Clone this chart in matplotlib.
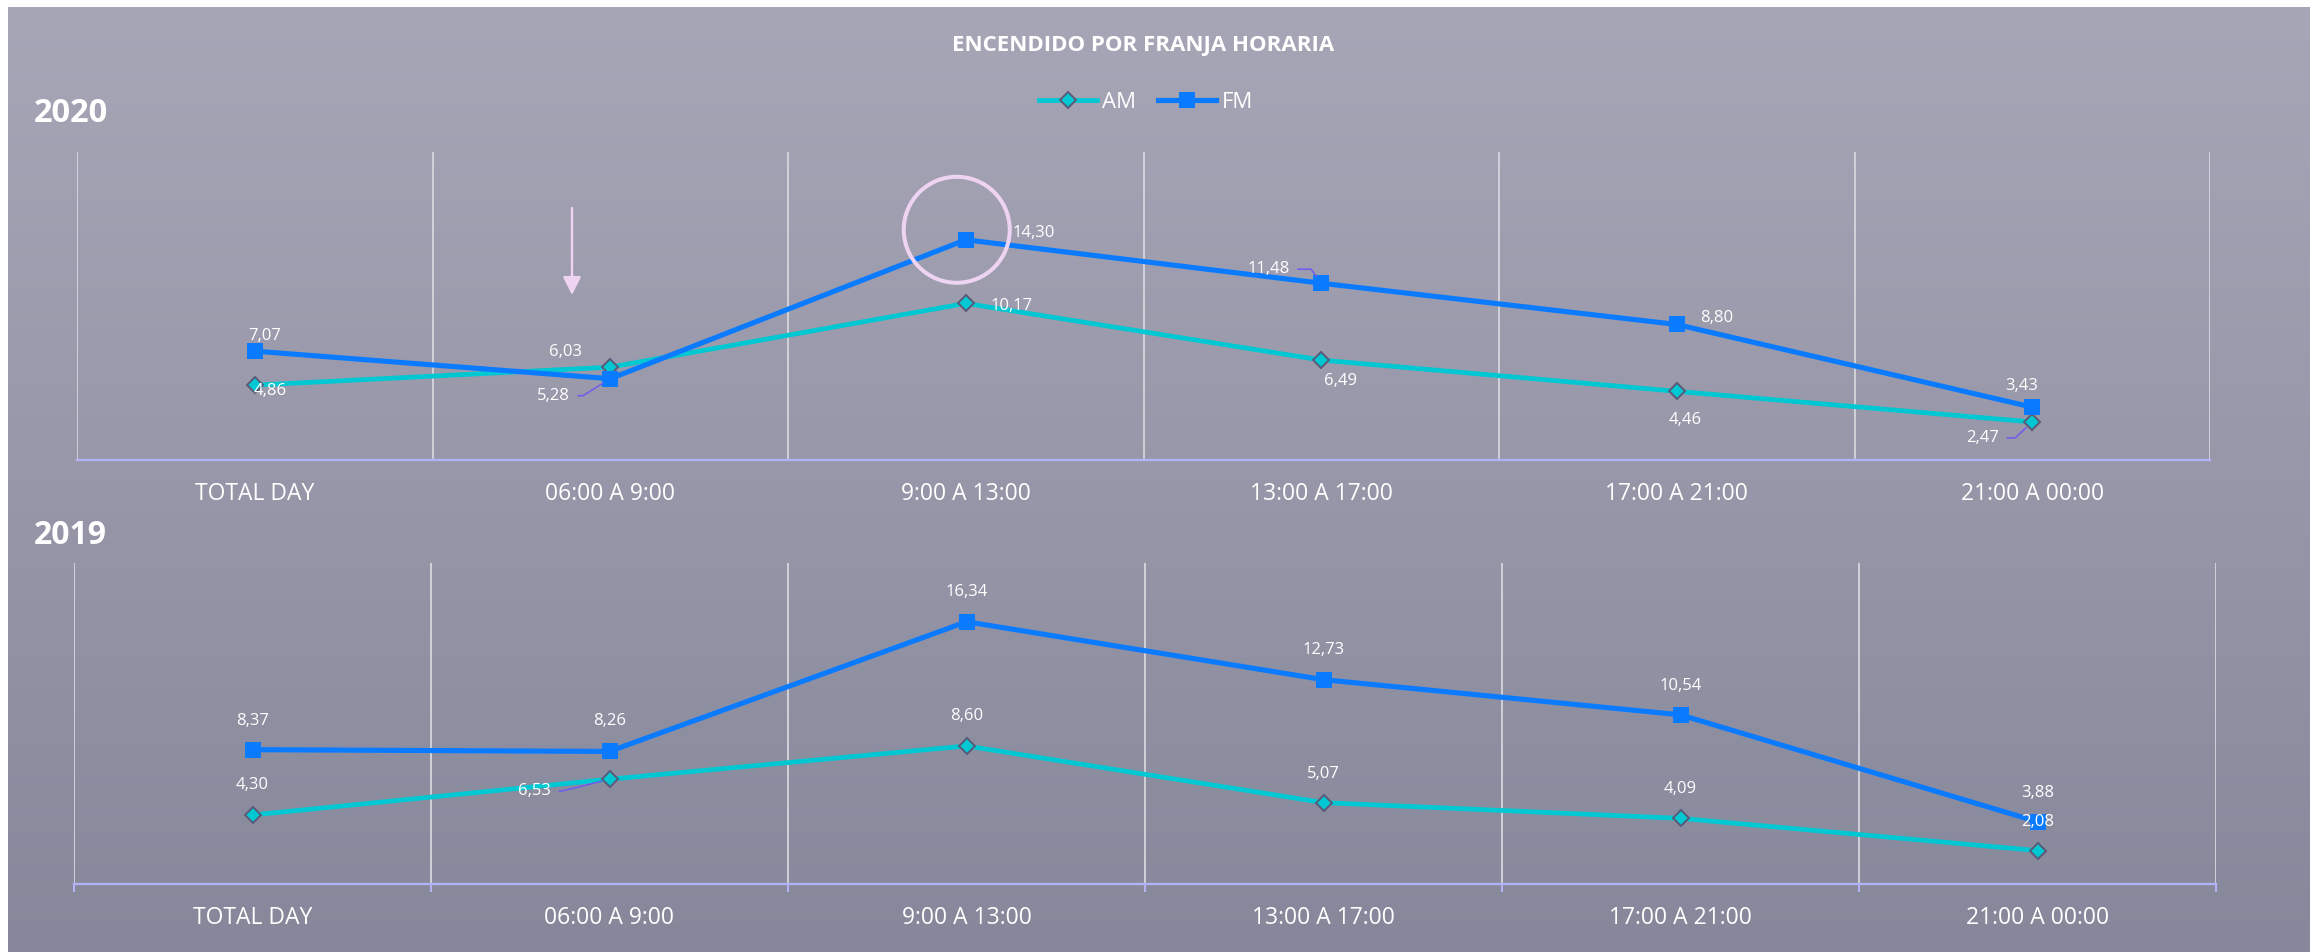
import numpy as np
import matplotlib
matplotlib.use("Agg")
import matplotlib.pyplot as plt
from matplotlib import transforms as mtrans
from matplotlib.patches import Circle
from matplotlib.lines import Line2D
from matplotlib.colors import LinearSegmentedColormap

# ---------------- data ----------------
categories = ["TOTAL DAY", "06:00 A 9:00", "9:00 A 13:00",
              "13:00 A 17:00", "17:00 A 21:00", "21:00 A 00:00"]
am_2020 = [4.86, 6.03, 10.17, 6.49, 4.46, 2.47]
fm_2020 = [7.07, 5.28, 14.30, 11.48, 8.80, 3.43]
am_2019 = [4.30, 6.53, 8.60, 5.07, 4.09, 2.08]
fm_2019 = [8.37, 8.26, 16.34, 12.73, 10.54, 3.88]
series_names = ["AM", "FM"]
panel_years = ["2020", "2019"]
title_text = "ENCENDIDO POR FRANJA HORARIA"

# ---------------- styling / layout ----------------
W, H, DPI = 2310, 952, 100
FM_C = "#0a7bff"
AM_C = "#00c8d2"
AM_EDGE = "#5a5a78"
GRID_C = "#d6d6de"
AXIS_C = "#b2b2f6"
LEADER_C = "#6a5cf0"
PINK_C = "#eed4f2"

# label offsets in pixels (dx, dy up) relative to the marker
off_fm_2020 = [(10, 15), (-57, -17), (68, 7), (-53, 14), (40, 6), (-11, 21)]
off_am_2020 = [(15, -6), (-45, 15), (46, -3), (19, -21), (8, -29), (-50, -16)]
off_fm_2019 = [(0, 29), (0, 30), (0, 30), (0, 30), (0, 29), (0, 29)]
off_am_2019 = [(0, 29.5), (-75, -12), (0, 30), (0, 29), (0, 29), (0, 29)]
# leader line angles (degrees) for labels that have a leader
lead_fm_2020 = {1: 32, 3: -54}
lead_am_2020 = {5: 43}
lead_fm_2019 = {}
lead_am_2019 = {1: 14}

plt.rcParams["font.family"] = ["Open Sans", "DejaVu Sans"]

fig = plt.figure(figsize=(W / DPI, H / DPI), dpi=DPI, facecolor="white")

# background gradient (white margin top/left)
bg = fig.add_axes([8 / W, 0, 1 - 8 / W, 1 - 7 / H], zorder=-10)
grad = np.linspace(0, 1, 256).reshape(-1, 1)
cmap = LinearSegmentedColormap.from_list("bg", ["#a7a6b7", "#9797a9", "#87879b"])
bg.imshow(grad, aspect="auto", cmap=cmap, extent=[0, 1, 0, 1])
bg.axis("off")

ax_top = fig.add_axes([77 / W, 1 - 460 / H, (2210 - 77) / W, (460 - 152) / H])
ax_bot = fig.add_axes([74 / W, 1 - 884 / H, (2216 - 74) / W, (884 - 563) / H])


def setup(ax, ticks_down):
    x = np.arange(len(categories))
    ax.set_xlim(-0.5, len(categories) - 0.5)
    ax.set_ylim(0, 20)
    ax.set_facecolor("none")
    for s in ["left", "right", "top"]:
        ax.spines[s].set_visible(False)
    ax.spines["bottom"].set_color(AXIS_C)
    ax.spines["bottom"].set_linewidth(1.7)
    ax.spines["bottom"].set_zorder(3)
    ax.set_yticks([])
    ax.set_xticks(x)
    ax.set_xticklabels(categories, fontsize=16.5, color="white")
    ax.tick_params(axis="x", which="major", length=0, pad=15.5)
    ax.set_xticks(np.arange(-0.5, len(categories), 1.0), minor=True)
    ax.tick_params(axis="x", which="minor", length=6 if ticks_down else 0,
                   width=1.5, color=AXIS_C, direction="out")
    ax.grid(True, which="minor", axis="x", color=GRID_C, lw=1.3)
    ax.grid(False, which="major")
    ax.set_axisbelow(True)


def draw_series(ax, am, fm):
    x = np.arange(len(categories))
    l_am, = ax.plot(x, am, color=AM_C, lw=3.4, marker="D", ms=8.2,
                    mfc=AM_C, mec=AM_EDGE, mew=1.4, zorder=4, clip_on=False)
    l_fm, = ax.plot(x, fm, color=FM_C, lw=3.7, marker="s", ms=12,
                    mfc=FM_C, mec=FM_C, mew=0, zorder=5, clip_on=False)
    return l_am, l_fm


def draw_labels(ax, values, offsets, leaders):
    for i, v in enumerate(values):
        dx, dy = offsets[i]
        txt = f"{v:.2f}".replace(".", ",")
        kw = dict(xy=(i, v), xytext=(dx * 0.72, dy * 0.72),
                  textcoords="offset points", ha="center", va="center",
                  fontsize=12, color="white", zorder=7)
        if i in leaders:
            relx = 1 if dx < 0 else 0
            kw["arrowprops"] = dict(
                arrowstyle="-", color=LEADER_C, lw=1.1, shrinkA=4, shrinkB=6,
                relpos=(relx, 0.5),
                connectionstyle=f"angle,angleA=0,angleB={leaders[i]},rad=0")
        ax.annotate(txt, **kw)


setup(ax_top, ticks_down=False)
setup(ax_bot, ticks_down=True)

draw_series(ax_top, am_2020, fm_2020)
draw_series(ax_bot, am_2019, fm_2019)

draw_labels(ax_top, fm_2020, off_fm_2020, lead_fm_2020)
draw_labels(ax_top, am_2020, off_am_2020, lead_am_2020)
draw_labels(ax_bot, fm_2019, off_fm_2019, lead_fm_2019)
draw_labels(ax_bot, am_2019, off_am_2019, lead_am_2019)

# highlight circle around the 2020 FM peak
peak = int(np.argmax(fm_2020))
circ_tr = fig.dpi_scale_trans + mtrans.ScaledTranslation(peak, fm_2020[peak], ax_top.transData)
ax_top.add_patch(Circle((-9 / DPI, 10 / DPI), 53 / DPI, transform=circ_tr,
                        fill=False, ec=PINK_C, lw=2.9, zorder=6, clip_on=False))

# pink down arrow
ax_top.annotate("", xy=(572 / W, 1 - 295 / H), xycoords="figure fraction",
                xytext=(572 / W, 1 - 208 / H), textcoords="figure fraction",
                arrowprops=dict(arrowstyle="-|>,head_length=1.1,head_width=0.55",
                                color=PINK_C, lw=1.7, shrinkA=0, shrinkB=0,
                                mutation_scale=10))

# title, years
fig.text(1143 / W, 1 - 51 / H, title_text, fontsize=16, weight="bold",
         color="white", ha="center", va="baseline")
fig.text(34 / W, 1 - 122 / H, panel_years[0], fontsize=23.5, weight="bold",
         color="white", ha="left", va="baseline")
fig.text(34 / W, 1 - 544 / H, panel_years[1], fontsize=23, weight="bold",
         color="white", ha="left", va="baseline")

# legend
handles = [
    Line2D([], [], color=AM_C, lw=3.4, marker="D", ms=8.2, mfc=AM_C, mec=AM_EDGE, mew=1.4),
    Line2D([], [], color=FM_C, lw=3.7, marker="s", ms=12, mfc=FM_C, mec=FM_C, mew=0),
]
fig.legend(handles, series_names, loc="center", bbox_to_anchor=(1146 / W, 1 - 102 / H),
           ncol=2, frameon=False, fontsize=16, labelcolor="white",
           handlelength=2.6, handletextpad=0.25, columnspacing=1.0)

fig.savefig("out.png", dpi=DPI, facecolor=fig.get_facecolor())
